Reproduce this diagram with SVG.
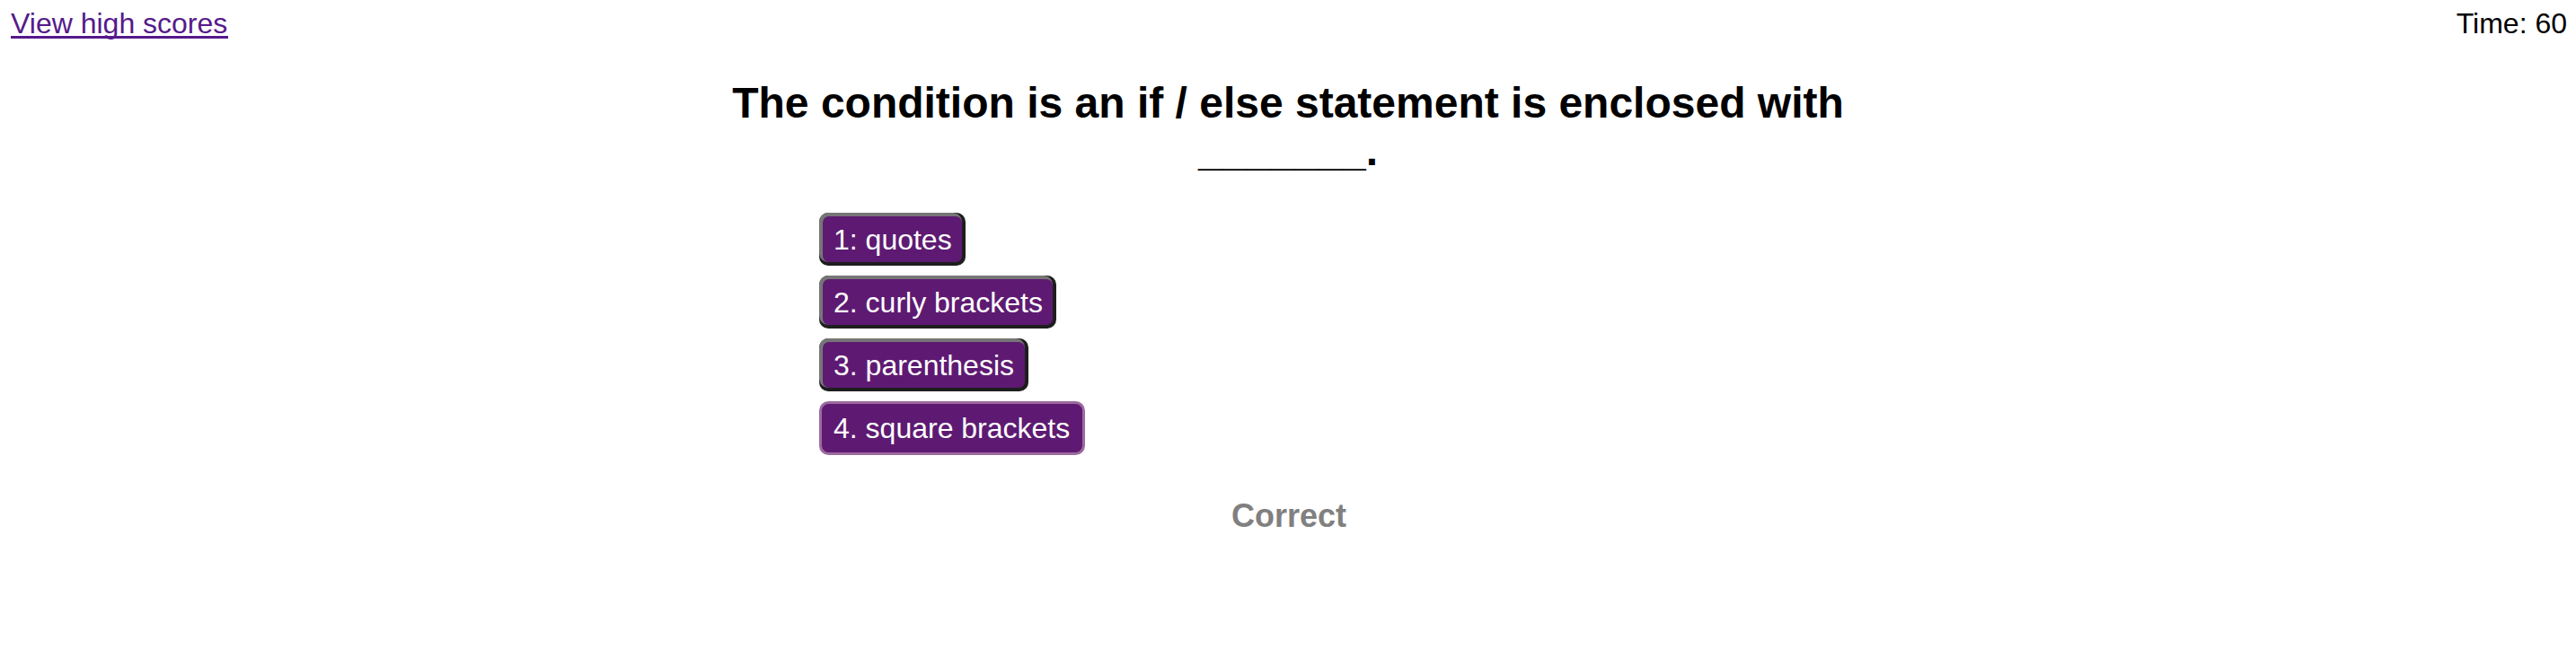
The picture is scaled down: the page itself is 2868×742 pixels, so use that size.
<svg xmlns="http://www.w3.org/2000/svg" width="2868" height="742" viewBox="0 0 2868 742">
<style>
.sans{font-family:"Liberation Sans",Arial,sans-serif}
.btn-dark{fill:#1e1e1e}
.btn-light{fill:#767676}
.btn-fill{fill:#5e1a72}
.btn-text{font-family:"Liberation Sans",Arial,sans-serif;font-size:32px;fill:#ffffff}
</style>
<rect width="2868" height="742" fill="#ffffff"/>
<g id="header">
<text class="sans" x="12" y="37" font-size="32" fill="#551A8B">View high scores</text>
<rect x="12" y="40" width="242" height="3" fill="#551A8B"/>
<text class="sans" x="2858" y="37" font-size="32" fill="#000000" text-anchor="end">Time: 60</text>
</g>
<g id="question">
<text class="sans" x="1434" y="131" font-size="48" font-weight="bold" fill="#000000" text-anchor="middle">The condition is an if / else statement is enclosed with</text>
<text class="sans" x="1434" y="184" font-size="48" font-weight="bold" fill="#000000" text-anchor="middle">_______.</text>
</g>
<g id="answer1">
<rect class="btn-dark" x="912" y="237" width="163" height="59" rx="10"/>
<rect class="btn-light" x="912" y="237" width="159" height="55" rx="10"/>
<rect class="btn-fill" x="916" y="241" width="155" height="51" rx="7"/>
<text class="btn-text" x="928" y="278">1: quotes</text>
</g>
<g id="answer2">
<rect class="btn-dark" x="912" y="307" width="264" height="59" rx="10"/>
<rect class="btn-light" x="912" y="307" width="260" height="55" rx="10"/>
<rect class="btn-fill" x="916" y="311" width="256" height="51" rx="7"/>
<text class="btn-text" x="928" y="348">2. curly brackets</text>
</g>
<g id="answer3">
<rect class="btn-dark" x="912" y="377" width="233" height="59" rx="10"/>
<rect class="btn-light" x="912" y="377" width="229" height="55" rx="10"/>
<rect class="btn-fill" x="916" y="381" width="225" height="51" rx="7"/>
<text class="btn-text" x="928" y="418">3. parenthesis</text>
</g>
<g id="answer4">
<rect x="913.5" y="448.5" width="293" height="57" rx="9" fill="#5e1a72" stroke="#9c6a9e" stroke-width="3"/>
<text class="btn-text" x="928" y="488">4. square brackets</text>
</g>
<g id="feedback">
<text class="sans" x="1435" y="587" font-size="36" font-weight="bold" fill="#808080" text-anchor="middle">Correct</text>
</g>
</svg>
